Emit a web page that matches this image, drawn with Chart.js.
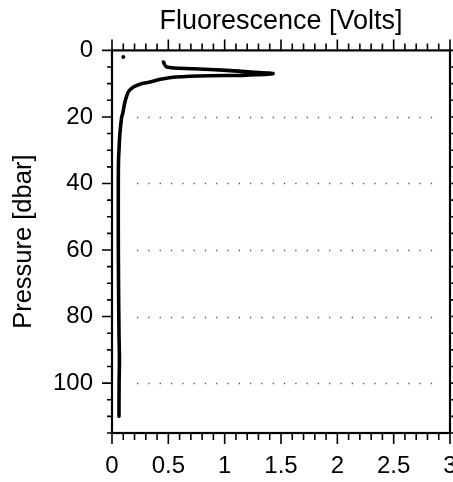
<!DOCTYPE html>
<html>
<head>
<meta charset="utf-8">
<script src="https://cdn.jsdelivr.net/npm/chart.js"></script>
<style>
  html, body { margin: 0; padding: 0; background: #fff; }
</style>
</head>
<body>
<canvas id="grafico" width="453" height="482"></canvas>
<script>
// Profile: pressure [dbar] and fluorescence [Volts]
const pressure = [3.5, 5.0, 5.5, 6.0, 6.5, 7.0, 7.5, 7.6, 8.0, 8.7, 9.5, 10.0, 11.0, 12.5, 15.5, 19, 20, 25, 30, 33, 40, 55, 70, 85, 93, 100, 110];
const fluorescence = [0.456, 0.485, 0.72, 1.02, 1.23, 1.43, 1.16, 0.87, 0.57, 0.43, 0.34, 0.26, 0.19, 0.145, 0.115, 0.095, 0.086, 0.07, 0.062, 0.058, 0.056, 0.056, 0.058, 0.062, 0.066, 0.063, 0.062];

// Lone sample near the surface
const dotPressure = [2];
const dotFluorescence = [0.1];

// Axis ticks
const xTicks = [0, 0.5, 1, 1.5, 2, 2.5, 3];
const yTicks = [0, 20, 40, 60, 80, 100];
const yGrid = [20, 40, 60, 80, 100];

const font = "'Liberation Sans', Arial, sans-serif";

// Frame with ticks on every side and dotted grid lines
const frame = {
  id: "frame",
  beforeDatasetsDraw(chart) {
    const { ctx, chartArea: a, scales: { y } } = chart;
    ctx.save();
    ctx.strokeStyle = "#555";
    ctx.lineWidth = 1.3;
    ctx.setLineDash([1.3, 10]);
    yGrid.forEach((v) => {
      const py = Math.round(y.getPixelForValue(v)) + 0.5;
      ctx.beginPath();
      ctx.moveTo(a.left + 25, py);
      ctx.lineTo(a.right - 8, py);
      ctx.stroke();
    });
    ctx.restore();
  },
  afterDraw(chart) {
    const { ctx, chartArea: a, scales: { x, y } } = chart;
    ctx.save();
    ctx.strokeStyle = "#000";
    ctx.lineWidth = 1.6;
    ctx.beginPath();
    // x ticks every 0.1, longer at each 0.5
    for (let i = 0; i <= 30; i++) {
      const px = x.getPixelForValue(i / 10);
      const len = i % 5 === 0 ? 11 : 7;
      ctx.moveTo(px, a.top);
      ctx.lineTo(px, a.top - len);
      ctx.moveTo(px, a.bottom);
      ctx.lineTo(px, a.bottom + len);
    }
    // y ticks every 5, longer at each 20
    for (let v = 0; v <= 115; v += 5) {
      const py = y.getPixelForValue(v);
      const len = v % 20 === 0 ? 10 : 5;
      ctx.moveTo(a.left, py);
      ctx.lineTo(a.left - len, py);
      ctx.moveTo(a.right, py);
      ctx.lineTo(a.right + len, py);
    }
    ctx.stroke();
    ctx.lineWidth = 2.2;
    ctx.strokeRect(a.left, a.top, a.right - a.left, a.bottom - a.top);
    ctx.restore();
  }
};

const ctx = document.getElementById("grafico").getContext("2d");
const grafico = new Chart(ctx, {
  type: "scatter",
  data: {
    datasets: [
      {
        data: fluorescence.map((f, i) => ({ x: f, y: pressure[i] })),
        showLine: true,
        borderColor: "#000",
        borderWidth: 3.6,
        pointRadius: 0,
        tension: 0.3,
        borderCapStyle: "round",
        borderJoinStyle: "round"
      },
      {
        data: dotFluorescence.map((f, i) => ({ x: f, y: dotPressure[i] })),
        pointRadius: 2,
        pointBackgroundColor: "#000",
        pointBorderWidth: 0
      }
    ]
  },
  options: {
    responsive: false,
    animation: false,
    layout: { autoPadding: false, padding: { left: 0, right: 3, top: 0, bottom: 0 } },
    plugins: {
      legend: { display: false },
      tooltip: { enabled: false },
      title: {
        display: true,
        fullSize: false,
        text: "Fluorescence [Volts]",
        color: "#000",
        font: { family: font, size: 27, weight: "normal" },
        padding: { top: 5, bottom: 13 }
      }
    },
    scales: {
      x: {
        type: "linear",
        min: 0,
        max: 3,
        afterBuildTicks: (s) => { s.ticks = xTicks.map((v) => ({ value: v })); },
        afterFit: (s) => { s.height = 49; s.paddingLeft = 0; s.paddingRight = 0; },
        grid: { display: true, drawOnChartArea: false, drawTicks: true, tickLength: 10, color: "rgba(0,0,0,0)", tickColor: "rgba(0,0,0,0)" },
        border: { display: false },
        ticks: { color: "#000", padding: 9, maxRotation: 0, autoSkip: false, font: { family: font, size: 24 }, callback: (v) => String(v) }
      },
      y: {
        type: "linear",
        reverse: true,
        min: 0,
        max: 115,
        afterBuildTicks: (s) => { s.ticks = yTicks.map((v) => ({ value: v })); },
        afterFit: (s) => { s.width = 112; s.paddingTop = 0; s.paddingBottom = 0; },
        grid: { display: true, drawOnChartArea: false, drawTicks: true, tickLength: 10, color: "rgba(0,0,0,0)", tickColor: "rgba(0,0,0,0)" },
        border: { display: false },
        ticks: { color: "#000", padding: 9, autoSkip: false, font: { family: font, size: 24 }, callback: (v) => String(v) },
        title: {
          display: true,
          text: "Pressure [dbar]",
          color: "#000",
          font: { family: font, size: 25.5 },
          padding: { top: 9, bottom: 0 }
        }
      }
    }
  },
  plugins: [frame]
});
</script>
</body>
</html>
